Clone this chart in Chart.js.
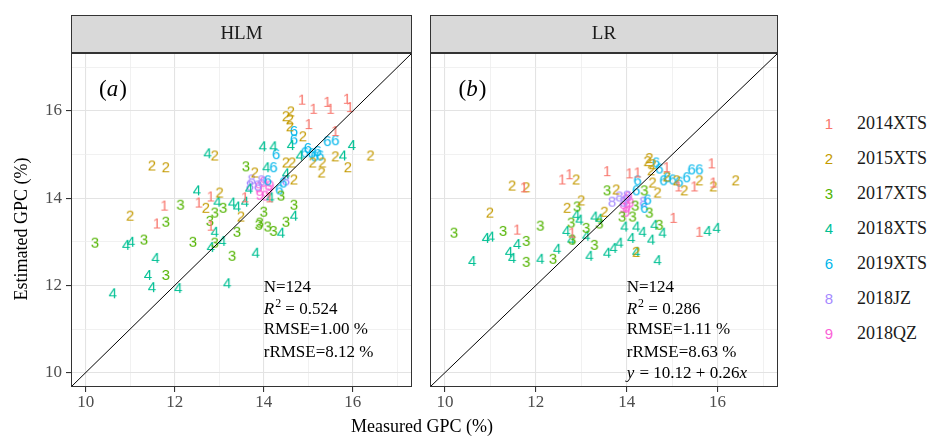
<!DOCTYPE html>
<html>
<head>
  <meta charset="UTF-8">
  <title>HLM vs LR GPC</title>
  <script src="https://cdn.jsdelivr.net/npm/chart.js"></script>
  <style>
    body { margin: 0; background: #fff; }
    #wrap { position: relative; width: 935px; height: 437px; overflow: hidden; }
    canvas { position: absolute; top: 0; }
    #chartA { left: 0; }
    #chartB { left: 420px; }
    #xtitle {
      position: absolute; left: 322px; width: 200px; top: 416px;
      text-align: center; font: 18px "Liberation Serif", serif; color: #000;
    }
    .leg { position: absolute; left: 818px; height: 20px; line-height: 20px; }
    .leg .d { display: inline-block; width: 22px; text-align: center; font: 15px "Liberation Sans", Arial, sans-serif; }
    .leg .t { margin-left: 17px; font: 18px "Liberation Serif", serif; color: #1a1a1a; }
  </style>
</head>
<body>
<div id="wrap">
  <canvas id="chartA" width="420" height="437"></canvas>
  <canvas id="chartB" width="370" height="437"></canvas>
  <div id="xtitle">Measured GPC (%)</div>
  <div id="legend"></div>
</div>

<script>
  const groups = ['2014XTS', '2015XTS', '2017XTS', '2018XTS', '2019XTS', '2018JZ', '2018QZ'];
  const digits = ['1', '2', '3', '4', '6', '8', '9'];
  const colors = ['#F8766D', '#C49A00', '#53B400', '#00C094', '#00B6EB', '#A58AFF', '#FB61D7'];
  const axisMin = 9.67, axisMax = 17.33;

  // HLM panel: [measured, estimated]
  const hlm2014XTS = [[14.86,16.26],[15.12,16.05],[15.43,16.21],[15.50,16.05],[15.87,16.28],[15.94,16.09],[15.01,15.70],[15.61,15.54],
    [11.77,13.83],[11.60,13.42],[12.54,13.90],[12.81,14.04],[12.81,13.37],[13.58,14.02],[14.13,14.02]];
  const hlm2015XTS = [[11.49,14.75],[11.80,14.71],[12.90,14.98],[11.00,13.60],[12.70,13.78],[13.01,14.13],[13.49,13.58],[13.80,14.59],
    [14.50,15.88],[14.61,15.99],[14.59,15.65],[14.59,15.81],[14.88,15.42],[14.50,14.82],[14.64,14.82],[14.68,14.43],[15.10,14.82],
    [15.32,14.82],[15.30,14.59],[15.61,14.96],[15.89,14.71],[16.40,14.98]];
  const hlm2017XTS = [[10.21,12.98],[11.31,13.05],[11.80,13.46],[11.80,12.24],[12.13,13.85],[12.41,13.00],[12.79,13.48],[12.90,13.67],
    [13.09,13.78],[12.90,12.98],[13.40,13.23],[13.29,12.68],[13.60,14.73],[13.91,13.44],[14.00,13.69],[13.89,13.39],[14.09,13.35],
    [14.22,13.25],[14.50,13.46],[14.68,13.85],[14.39,14.06]];
  const hlm2018XTS = [[10.61,11.82],[10.91,12.93],[11.02,13.00],[11.40,12.24],[11.49,11.96],[11.57,12.63],[12.08,11.94],[12.50,14.18],
    [12.74,15.03],[12.81,12.88],[12.90,13.23],[13.07,13.02],[12.96,13.92],[13.29,13.90],[13.40,13.81],[13.58,13.92],[13.18,12.05],
    [13.67,14.22],[13.82,12.75],[13.98,15.19],[14.22,15.19],[14.61,15.22],[14.81,14.98],[14.06,14.71],[14.15,14.02],[14.39,13.21],
    [14.68,13.60],[15.78,14.98],[15.98,15.22],[14.50,14.57]];
  const hlm2019XTS = [[14.68,15.54],[14.68,15.35],[14.28,15.01],[14.22,14.71],[14.09,14.41],[14.99,15.15],[15.08,15.03],[15.21,15.08],
    [15.27,14.98],[15.43,15.31],[15.61,15.33],[14.44,14.36],[14.35,14.20],[14.92,15.05],[15.14,14.96]];
  const hlm2018JZ = [[13.73,14.43],[13.69,14.29],[13.87,14.29],[13.95,14.41],[14.50,14.41]];
  const hlm2018QZ = [[14.00,14.38],[13.89,14.25],[14.11,14.20],[13.91,14.08],[14.04,14.06],[14.15,14.29]];

  // LR panel: [measured, estimated]
  const lr2014XTS = [[11.74,14.25],[12.58,14.43],[12.74,14.55],[11.59,13.28],[12.80,13.21],[13.57,14.62],[14.06,14.57],[14.24,14.59],
    [14.88,14.71],[15.49,14.27],[15.87,14.80],[15.91,14.36],[15.14,14.27],[15.03,13.55],[15.60,13.23]];
  const lr2015XTS = [[10.99,13.67],[11.48,14.29],[11.79,14.25],[12.89,14.43],[12.69,13.78],[13.00,13.95],[13.51,13.69],[13.77,14.20],
    [14.50,14.92],[14.57,14.78],[14.54,14.64],[14.46,14.85],[14.88,14.50],[14.57,14.36],[14.68,14.13],[15.10,14.41],[15.27,14.18],
    [15.60,14.41],[15.91,14.27],[16.40,14.41],[14.21,12.77]];
  const lr2017XTS = [[10.20,13.21],[11.28,13.25],[12.10,13.37],[11.79,13.02],[11.79,12.54],[12.38,12.61],[12.78,13.44],[12.80,13.05],
    [13.11,13.32],[13.29,12.93],[12.91,13.81],[13.57,14.18],[13.90,13.58],[14.13,13.58],[14.19,13.83],[14.39,14.18],[14.50,13.67],
    [14.72,13.39],[13.40,13.42]];
  const lr2018XTS = [[10.60,12.56],[10.90,13.09],[11.01,13.12],[11.41,12.77],[11.48,12.63],[11.59,12.95],[12.10,12.61],[12.47,12.84],
    [12.67,13.25],[12.89,13.62],[12.96,13.51],[12.78,13.05],[13.11,13.14],[13.18,12.68],[13.29,13.58],[13.40,13.53],[13.57,12.75],
    [13.71,12.86],[13.84,12.98],[13.95,13.35],[14.10,13.09],[14.21,13.35],[14.35,13.23],[14.54,13.05],[14.61,13.39],[14.79,13.21],
    [14.21,12.77],[14.68,12.58],[15.78,13.25],[15.98,13.32]];
  const lr2019XTS = [[14.65,14.82],[14.72,14.68],[14.24,14.41],[14.21,14.18],[14.46,13.97],[14.39,13.78],[14.90,14.48],[15.01,14.43],
    [15.16,14.38],[15.32,14.48],[15.43,14.66],[15.60,14.66],[14.81,14.41]];
  const lr2018JZ = [[13.68,13.92],[13.84,14.04],[13.93,13.92],[14.37,13.92],[14.01,14.06]];
  const lr2018QZ = [[13.99,13.97],[14.01,13.81],[13.99,13.69],[14.08,13.90],[13.93,13.78],[14.04,14.04]];

  const hlmStats = [['N=124'], ['R2', ' = 0.524'], ['RMSE=1.00 %'], ['rRMSE=8.12 %']];
  const lrStats = [['N=124'], ['R2', ' = 0.286'], ['RMSE=1.11 %'], ['rRMSE=8.63 %'], ['y', ' = 10.12 + 0.26', 'x']];

  const serif = '"Liberation Serif", "Times New Roman", serif';

  function digitImage(d, color) {
    const c = document.createElement('canvas');
    c.width = 14; c.height = 18;
    const g = c.getContext('2d');
    g.font = '15px "Liberation Sans", Arial, sans-serif';
    g.fillStyle = color;
    g.textAlign = 'center';
    g.textBaseline = 'middle';
    g.fillText(d, 7, 9.5);
    return c;
  }
  const images = digits.map((d, i) => digitImage(d, colors[i]));

  // draw a line of mixed upright/italic/superscript pieces
  function drawPieces(ctx, x, y, pieces, size) {
    pieces.forEach(p => {
      const fs = p.sup ? size * 0.7 : size;
      ctx.font = (p.it ? 'italic ' : '') + fs + 'px ' + serif;
      ctx.fillText(p.t, x, p.sup ? y - size * 0.35 : y);
      x += ctx.measureText(p.t).width + (p.it ? 1 : 0);
    });
  }
  function statPieces(line) {
    if (line[0] === 'R2') return [{t: 'R', it: true}, {t: '2', sup: true}, {t: line[1]}];
    if (line[0] === 'y') return [{t: 'y', it: true}, {t: line[1]}, {t: line[2], it: true}];
    return [{t: line[0]}];
  }

  const facet = {
    id: 'facet',
    afterDraw(chart, args, o) {
      const {ctx, chartArea: a, scales} = chart;
      ctx.save();
      // panel frame
      ctx.strokeStyle = '#333';
      ctx.lineWidth = 1;
      ctx.strokeRect(a.left + 0.5, a.top + 0.5, a.right - a.left - 1, a.bottom - a.top - 1);
      // strip
      ctx.fillStyle = '#d9d9d9';
      ctx.fillRect(a.left, 15, a.right - a.left, a.top - 15);
      ctx.strokeRect(a.left + 0.5, 15.5, a.right - a.left - 1, a.top - 16);
      ctx.fillStyle = '#1a1a1a';
      ctx.font = '19px ' + serif;
      ctx.textAlign = 'center';
      ctx.textBaseline = 'middle';
      ctx.fillText(o.strip, (a.left + a.right) / 2, 34);
      // panel tag
      ctx.fillStyle = '#000';
      ctx.textAlign = 'left';
      const tx = scales.x.getPixelForValue(10.30), ty = scales.y.getPixelForValue(16.49);
      drawPieces(ctx, tx, ty, [{t: '('}, {t: o.tag, it: true}, {t: ')'}], 23);
      // stats
      const sx = scales.x.getPixelForValue(14.0);
      const rows = [11.96, 11.45, 10.99, 10.46, 9.98];
      o.stats.forEach((line, i) => {
        drawPieces(ctx, sx, scales.y.getPixelForValue(rows[i]), statPieces(line), 17);
      });
      // y axis title
      if (o.ytitle) {
        ctx.translate(22, 229);
        ctx.rotate(-Math.PI / 2);
        ctx.textAlign = 'center';
        ctx.font = '18px ' + serif;
        ctx.fillText(o.ytitle, 0, 0);
      }
      ctx.restore();
    }
  };

  const isMajor = v => Math.round(v) % 2 === 0;
  function axis(showLabels, fitSize, horizontal) {
    return {
      type: 'linear', min: axisMin, max: axisMax,
      afterFit: s => { if (horizontal) s.height = fitSize; else s.width = fitSize; },
      border: {display: false},
      grid: {
        color: c => c.tick && isMajor(c.tick.value) ? '#e3e3e3' : '#eeeeee',
        lineWidth: c => c.tick && isMajor(c.tick.value) ? 1.1 : 0.8,
        tickColor: c => c.tick && isMajor(c.tick.value) ? '#333' : 'rgba(0,0,0,0)',
        tickLength: 5,
        drawTicks: showLabels
      },
      ticks: {
        display: showLabels,
        stepSize: 1, includeBounds: false, autoSkip: false, maxRotation: 0,
        color: '#4d4d4d', padding: horizontal ? 0 : 4,
        font: {family: serif, size: 17},
        callback: v => isMajor(v) ? Math.round(v) : ''
      }
    };
  }

  function makePanel(id, sets, opts, yLabels, padding) {
    const datasets = [{
      type: 'line', data: [{x: axisMin, y: axisMin}, {x: axisMax, y: axisMax}],
      borderColor: '#000', borderWidth: 1, pointRadius: 0, showLine: true
    }];
    sets.forEach((arr, i) => datasets.push({
      label: groups[i],
      data: arr.map(p => ({x: p[0], y: p[1]})),
      pointStyle: images[i], pointRadius: 7
    }));
    new Chart(document.getElementById(id), {
      type: 'scatter',
      data: {datasets: datasets},
      options: {
        responsive: false, animation: false,
        layout: {padding: padding},
        scales: {
          x: axis(true, 50, true),
          y: axis(yLabels, yLabels ? 71 : 0, false)
        },
        plugins: {legend: {display: false}, tooltip: {enabled: false}, facet: opts}
      },
      plugins: [facet]
    });
  }

  makePanel('chartA', [hlm2014XTS, hlm2015XTS, hlm2017XTS, hlm2018XTS, hlm2019XTS, hlm2018JZ, hlm2018QZ],
    {strip: 'HLM', tag: 'a', stats: hlmStats, ytitle: 'Estimated GPC (%)'}, true,
    {left: 0, right: 2, top: 53, bottom: 0});
  makePanel('chartB', [lr2014XTS, lr2015XTS, lr2017XTS, lr2018XTS, lr2019XTS, lr2018JZ, lr2018QZ],
    {strip: 'LR', tag: 'b', stats: lrStats}, false,
    {left: 10, right: 12, top: 53, bottom: 0});

  // legend
  const legend = document.getElementById('legend');
  groups.forEach((g, i) => {
    const row = document.createElement('div');
    row.className = 'leg';
    row.style.top = (113 + i * 35) + 'px';
    row.innerHTML = '<span class="d" style="color:' + colors[i] + '">' + digits[i] + '</span><span class="t">' + g + '</span>';
    legend.appendChild(row);
  });
</script>
</body>
</html>
